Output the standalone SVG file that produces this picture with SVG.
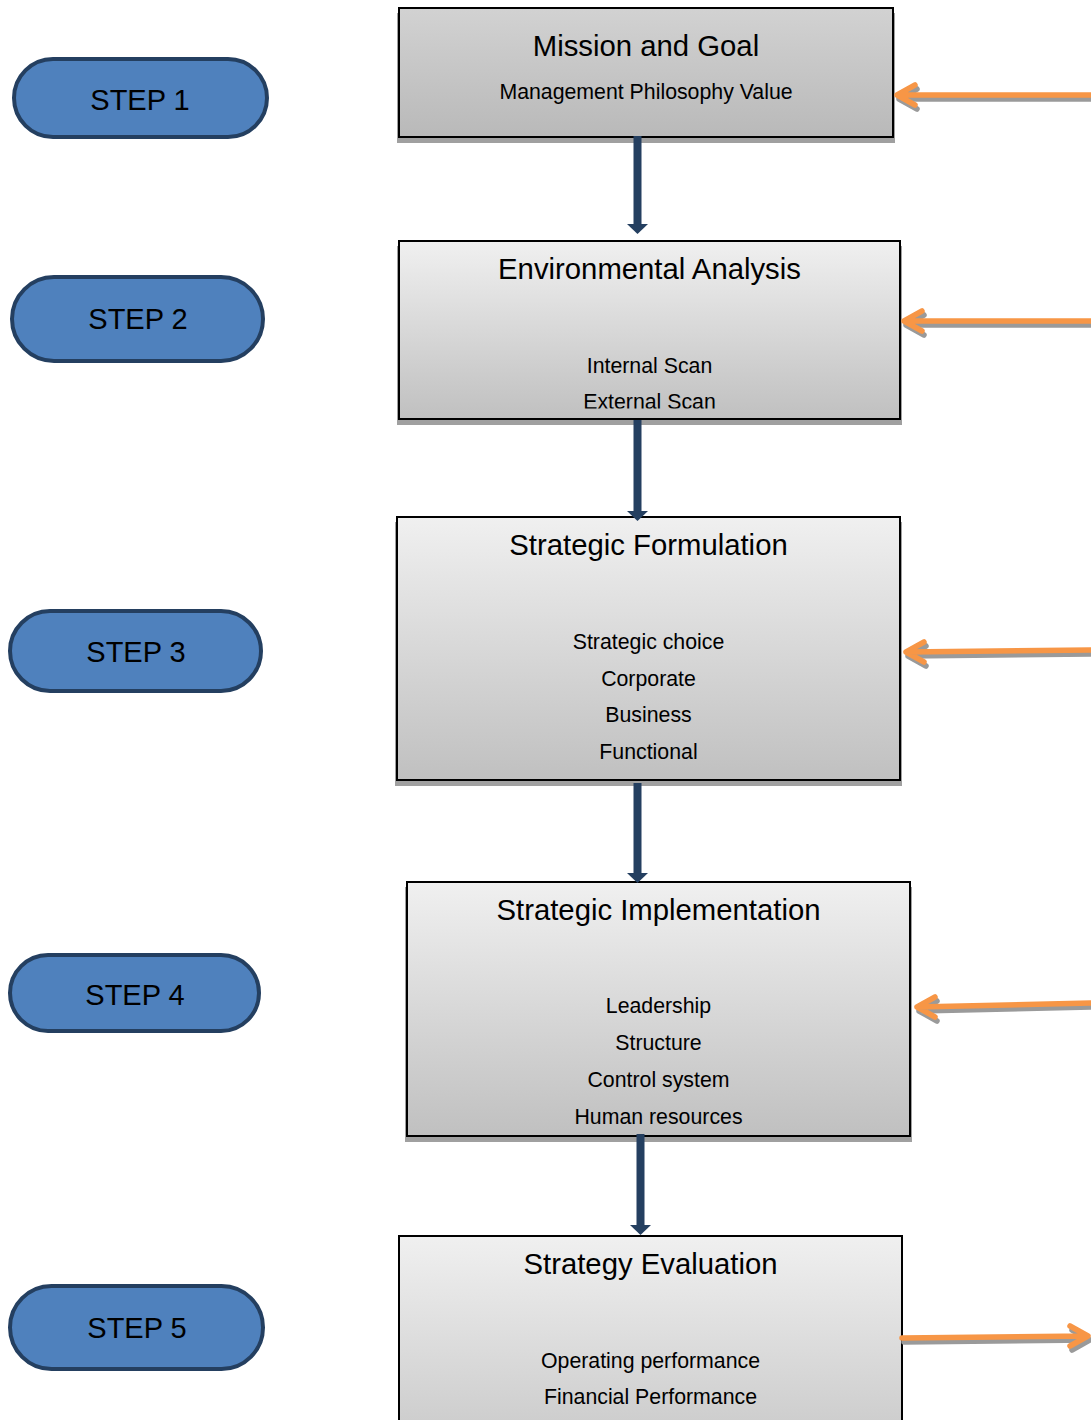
<svg xmlns="http://www.w3.org/2000/svg" width="1091" height="1420" viewBox="0 0 1091 1420">
<defs>
<style>
.box{stroke:#000;stroke-width:2}
.shadow{fill:#a0a0a0}
.title{font-family:"Liberation Sans",Arial,sans-serif;font-size:29.3px;fill:#000;text-anchor:middle}
.sub{font-family:"Liberation Sans",Arial,sans-serif;font-size:21.3px;fill:#000;text-anchor:middle}
.step{fill:#4f81bd;stroke:#243f60;stroke-width:4}
.steptxt{font-family:"Liberation Sans",Arial,sans-serif;font-size:29px;fill:#000;text-anchor:middle}
.down{fill:#243f60}
.or{fill:none;stroke:#f79646;stroke-width:5.5;stroke-linecap:round;stroke-linejoin:round}
.ors{fill:none;stroke:#9a9a9a;stroke-width:5.5;stroke-linecap:round;stroke-linejoin:round}
</style>
<linearGradient id="g1" x1="0" y1="0" x2="0" y2="1">
<stop offset="0" stop-color="#d2d2d2"/><stop offset="1" stop-color="#b9b9b9"/>
</linearGradient>
<linearGradient id="g2" x1="0" y1="0" x2="0" y2="1">
<stop offset="0" stop-color="#f0f0f0"/><stop offset="1" stop-color="#c0c0c0"/>
</linearGradient>
<linearGradient id="g5" x1="0" y1="0" x2="0" y2="1">
<stop offset="0" stop-color="#f0f0f0"/><stop offset="1" stop-color="#cdcdcd"/>
</linearGradient>
<clipPath id="clip2"><rect x="399" y="241" width="501" height="167.5"/></clipPath>
</defs>
<rect width="1091" height="1420" fill="#fff"/>

<g id="step1"><rect class="step" x="14" y="59" width="253" height="78" rx="39"/><text class="steptxt" x="140" y="110">STEP 1</text></g>
<g id="step2"><rect class="step" x="12" y="277" width="251" height="84" rx="42"/><text class="steptxt" x="138" y="329">STEP 2</text></g>
<g id="step3"><rect class="step" x="10" y="611" width="251" height="80" rx="40"/><text class="steptxt" x="136" y="662">STEP 3</text></g>
<g id="step4"><rect class="step" x="10" y="955" width="249" height="76" rx="38"/><text class="steptxt" x="135" y="1005">STEP 4</text></g>
<g id="step5"><rect class="step" x="10" y="1286" width="253" height="83" rx="41.5"/><text class="steptxt" x="137" y="1338">STEP 5</text></g>

<g id="box1">
<rect class="shadow" x="397" y="13" width="498" height="130"/>
<rect class="box" x="399" y="8" width="494" height="129" fill="url(#g1)"/>
<text class="title" x="646" y="56">Mission and Goal</text>
<text class="sub" x="646" y="99">Management Philosophy Value</text>
</g>

<g id="box2">
<rect class="shadow" x="397" y="246" width="505" height="179"/>
<rect class="box" x="399" y="241" width="501" height="178" fill="url(#g2)"/>
<text class="title" x="649.5" y="279">Environmental Analysis</text>
<text class="sub" x="649.5" y="373">Internal Scan</text>
<text class="sub" x="649.5" y="409" clip-path="url(#clip2)">External Scan</text>
</g>

<g id="box3">
<rect class="shadow" x="395" y="522" width="507" height="264"/>
<rect class="box" x="397" y="517" width="503" height="263" fill="url(#g2)"/>
<text class="title" x="648.5" y="555">Strategic Formulation</text>
<text class="sub" x="648.5" y="649">Strategic choice</text>
<text class="sub" x="648.5" y="686">Corporate</text>
<text class="sub" x="648.5" y="722">Business</text>
<text class="sub" x="648.5" y="759">Functional</text>
</g>

<g id="box4">
<rect class="shadow" x="405" y="887" width="507" height="255"/>
<rect class="box" x="407" y="882" width="503" height="254" fill="url(#g2)"/>
<text class="title" x="658.5" y="920">Strategic Implementation</text>
<text class="sub" x="658.5" y="1013">Leadership</text>
<text class="sub" x="658.5" y="1050">Structure</text>
<text class="sub" x="658.5" y="1087">Control system</text>
<text class="sub" x="658.5" y="1124">Human resources</text>
</g>

<g id="box5">
<rect class="box" x="399" y="1236" width="503" height="190" fill="url(#g5)"/>
<text class="title" x="650.5" y="1274">Strategy Evaluation</text>
<text class="sub" x="650.5" y="1368">Operating performance</text>
<text class="sub" x="650.5" y="1404">Financial Performance</text>
</g>

<g id="connectors">
<rect class="down" x="633.5" y="136" width="8" height="89"/>
<polygon class="down" points="627,224 648,224 637.5,234"/>
<rect class="down" x="633.5" y="420" width="8" height="92"/>
<polygon class="down" points="627,511 648,511 637.5,521"/>
<rect class="down" x="633.5" y="783" width="8" height="91"/>
<polygon class="down" points="627,873 648,873 637.5,883"/>
<rect class="down" x="636.5" y="1134" width="8" height="92"/>
<polygon class="down" points="630,1225 651,1225 640.5,1235"/>

<g transform="translate(2,4)">
<path class="ors" d="M1091,95 L897,95 M915,85 L897,95 L915,105"/>
<path class="ors" d="M1091,321 L904,321 M922,311 L904,321 L922,331"/>
<path class="ors" d="M1091,650 L906,652 M924,642 L906,652 L924,662"/>
<path class="ors" d="M1091,1003 L917,1007 M935,997 L917,1007 L935,1017"/>
<path class="ors" d="M902,1338 L1088,1336 M1070,1326 L1088,1336 L1070,1346"/>
</g>
<path class="or" d="M1091,95 L897,95 M915,85 L897,95 L915,105"/>
<path class="or" d="M1091,321 L904,321 M922,311 L904,321 L922,331"/>
<path class="or" d="M1091,650 L906,652 M924,642 L906,652 L924,662"/>
<path class="or" d="M1091,1003 L917,1007 M935,997 L917,1007 L935,1017"/>
<path class="or" d="M902,1338 L1088,1336 M1070,1326 L1088,1336 L1070,1346"/>
</g>
</svg>
